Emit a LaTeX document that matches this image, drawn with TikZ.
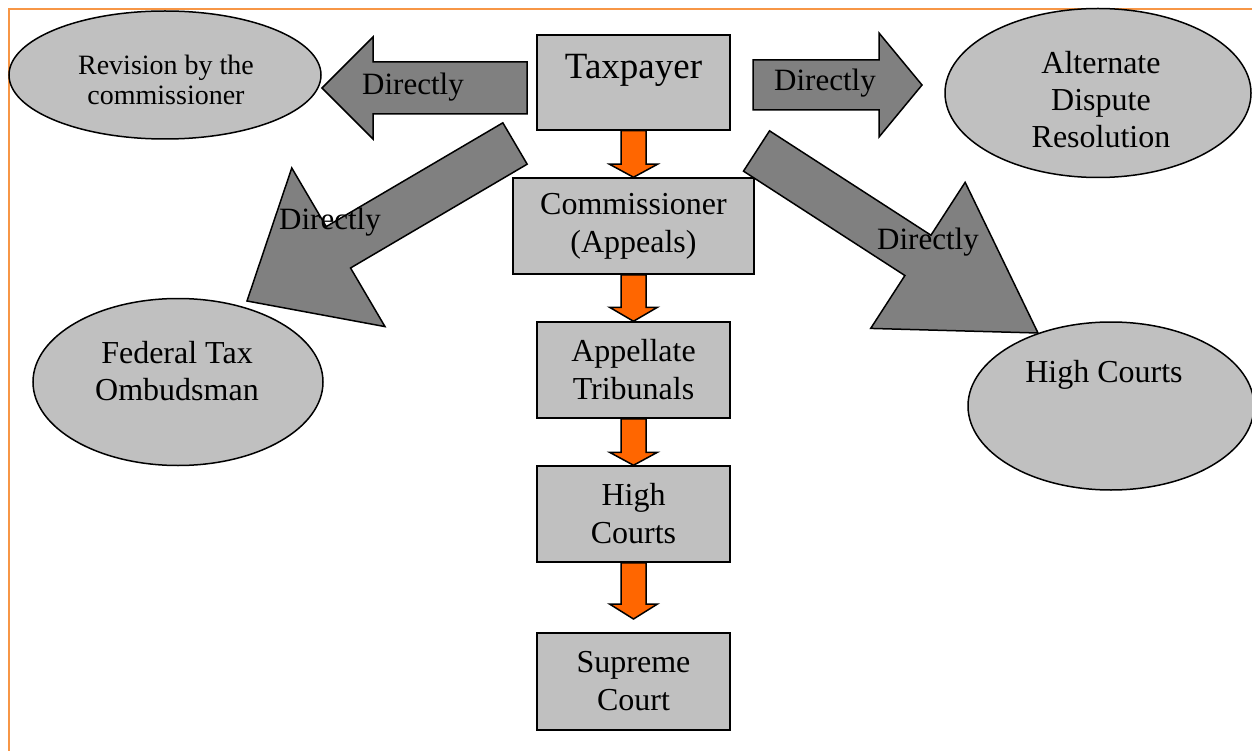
\documentclass[tikz,border=0pt]{standalone}
\usepackage{fontspec}
\setmainfont{Liberation Serif}
\usetikzlibrary{calc,shapes.geometric}

\definecolor{boxgray}{HTML}{C0C0C0}
\definecolor{arrowgray}{HTML}{808080}
\definecolor{steporange}{HTML}{FF6600}
\definecolor{frameorange}{HTML}{F79646}

\tikzset{
  court/.style={rectangle,draw,fill=boxgray,line width=1.5pt,minimum width=193pt,
    minimum height=96pt,inner sep=0pt,align=center,font=\fontsize{32}{38}\selectfont},
  route/.style={ellipse,draw,fill=boxgray,line width=1.5pt,inner sep=0pt},
  routetext/.style={align=center,font=\fontsize{32}{37}\selectfont},
  grayarrow/.style={draw,fill=arrowgray,line width=1.5pt,line join=miter},
  orangearrow/.style={draw,fill=steporange,line width=1.5pt,line join=miter},
  lbl/.style={font=\fontsize{31}{36}\selectfont}
}

% #1 style, #2 tail, #3 tip, #4 half shaft, #5 half head, #6 head length
\newcommand{\fatarrow}[6]{%
  \coordinate (hb) at ($(#3)!#6!(#2)$);
  \draw[#1] ($(#2)!#4!90:(#3)$) -- ($(hb)!#4!90:(#3)$) -- ($(hb)!#5!90:(#3)$)
    -- (#3) -- ($(hb)!#5!-90:(#3)$) -- ($(hb)!#4!-90:(#3)$)
    -- ($(#2)!#4!-90:(#3)$) -- cycle;
}

\begin{document}
\begin{tikzpicture}[x=1pt,y=-1pt]
\useasboundingbox (0,0) rectangle (1252,751);
\draw[frameorange,line width=2pt] (1252,9) -- (8.5,9) -- (8.5,751);

% outside routes
\node[route,minimum width=312pt,minimum height=128pt] (revision) at (165,75) {};
\node[align=center,font=\fontsize{28}{30}\selectfont] (revisiontext) at (166,80) {Revision by the\\commissioner};
\node[route,minimum width=306pt,minimum height=169pt] (adr) at (1098,93) {};
\node[routetext] (adrtext) at (1101,100) {Alternate\\Dispute\\Resolution};
\node[route,minimum width=290pt,minimum height=167pt] (fto) at (178,382) {};
\node[routetext] (ftotext) at (177,371) {Federal Tax\\Ombudsman};
\node[route,minimum width=286pt,minimum height=168pt] (hcell) at (1111,406) {};
\node[routetext] (hcelltext) at (1104,375) {High Courts};

% appeal chain
\node[court,minimum height=95pt,font=\fontsize{37}{42}\selectfont,
  text height=25pt,text depth=33pt] (taxpayer) at (633.5,82.5) {Taxpayer};
\node[court,minimum width=241pt] (comm) at (633.5,226) {Commissioner\\(Appeals)};
\node[court] (appellate) at (633.5,370) {Appellate\\Tribunals};
\node[court] (highc) at (633.5,514) {High\\Courts};
\node[court,minimum height=97pt] (supreme) at (633.5,681.5) {Supreme\\Court};

\fatarrow{orangearrow}{taxpayer.south}{comm.north}{12.5pt}{24pt}{13pt}
\fatarrow{orangearrow}{comm.south}{appellate.north}{12.5pt}{24pt}{14pt}
\fatarrow{orangearrow}{appellate.south}{highc.north}{12.5pt}{24pt}{13pt}
\coordinate (supremetip) at (633.5,619);
\fatarrow{orangearrow}{highc.south}{supremetip}{12.5pt}{24pt}{15pt}

% direct routes
\coordinate (revtail) at (527,88);
\coordinate (revtip) at (322,88);
\fatarrow{grayarrow}{revtail}{revtip}{26pt}{51pt}{51pt}
\coordinate (adrtail) at (753,85);
\coordinate (adrtip) at (922,85);
\fatarrow{grayarrow}{adrtail}{adrtip}{25pt}{52pt}{43pt}
\coordinate (ftotail) at (515,143.5);
\coordinate (ftotip) at (247,301);
\fatarrow{grayarrow}{ftotail}{ftotip}{24pt}{92pt}{106pt}
\coordinate (hctail) at (756.5,151);
\coordinate (hctip) at (1038,333);
\fatarrow{grayarrow}{hctail}{hctip}{24pt}{87pt}{143pt}

\node[lbl] (revlbl) at (413,87) {Directly};
\node[lbl] (adrlbl) at (825,83) {Directly};
\node[lbl] (ftolbl) at (330,222) {Directly};
\node[lbl] (hclbl) at (928,242) {Directly};
\end{tikzpicture}
\end{document}
